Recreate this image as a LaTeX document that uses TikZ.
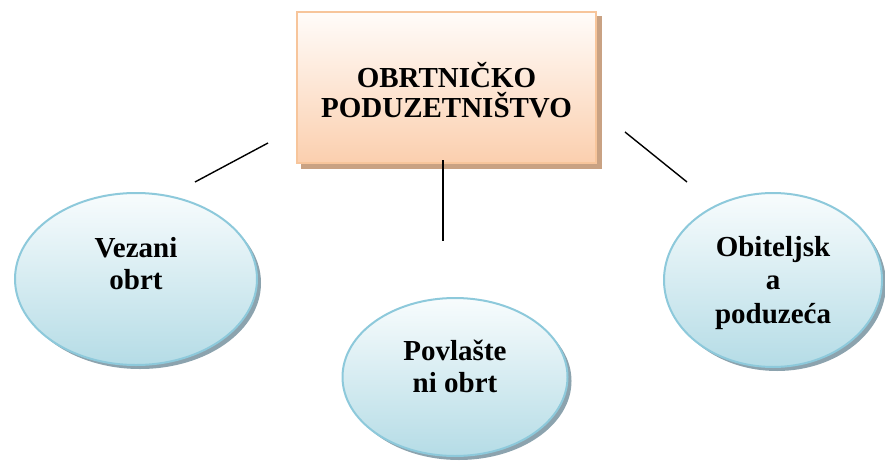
\documentclass[tikz,border=0pt]{standalone}
\usepackage{fontspec}
\setmainfont{Liberation Serif}
\usetikzlibrary{shapes.geometric}
\definecolor{boxedge}{HTML}{F7C59B}
\definecolor{boxtop}{HTML}{FFFCFA}
\definecolor{boxbot}{HTML}{FBCFAE}
\definecolor{boxshadow}{HTML}{C9A283}
\definecolor{elledge}{HTML}{8DC9DB}
\definecolor{elltop}{HTML}{F8FCFD}
\definecolor{ellbot}{HTML}{B5DCE6}
\definecolor{ellshadow}{HTML}{8CA3AE}
\tikzset{
  mainbox/.style={rectangle, draw=boxedge, line width=2pt, top color=boxtop, bottom color=boxbot, minimum width=299pt, minimum height=151pt, inner sep=0pt},
  boxshade/.style={rectangle, fill=boxshadow, minimum width=301pt, minimum height=153pt, inner sep=0pt},
  oval/.style={ellipse, draw=elledge, line width=2pt, top color=elltop, bottom color=ellbot, inner sep=0pt},
  ovalshade/.style={ellipse, fill=ellshadow, inner sep=0pt},
  lbl/.style={font=\fontsize{29}{32}\selectfont\bfseries, align=center, inner sep=0pt},
  conn/.style={line width=1.4pt, black}
}
\begin{document}
\begin{tikzpicture}[x=1pt,y=1pt]
\useasboundingbox (0,0) rectangle (885,-460);
% top box
\node[boxshade] (boxsh) at (451.5,-92.5) {};
\node[mainbox] (top) at (446.5,-87.5) {};
\node[lbl, font=\fontsize{29}{30}\selectfont\bfseries] (toptext) at (446.5,-90) {OBRTNIČKO\\PODUZETNIŠTVO};
% ellipses
\node[ovalshade, minimum width=242pt, minimum height=172pt] (e1sh) at (140,-283) {};
\node[oval, minimum width=242pt, minimum height=172pt] (e1) at (136,-279) {};
\node[lbl] (t1) at (136,-264) {Vezani\\obrt};
\node[ovalshade, minimum width=225pt, minimum height=158pt] (e2sh) at (459,-381) {};
\node[oval, minimum width=225pt, minimum height=158pt] (e2) at (455,-377) {};
\node[lbl] (t2) at (455,-366) {Povlašte\\ni obrt};
\node[ovalshade, minimum width=218pt, minimum height=174pt] (e3sh) at (777,-284) {};
\node[oval, minimum width=218pt, minimum height=174pt] (e3) at (773,-280) {};
\node[lbl, font=\fontsize{29}{33.5}\selectfont\bfseries] (t3) at (773,-283) {Obiteljsk\\a\\poduzeća};
% connectors
\coordinate (c1a) at (268,-143);
\coordinate (c1b) at (195,-182);
\coordinate (c2a) at (443,-160);
\coordinate (c2b) at (443,-241);
\coordinate (c3a) at (625,-132);
\coordinate (c3b) at (687,-182);
\draw[conn] (c1a) -- (c1b);
\draw[conn] (c2a) -- (c2b);
\draw[conn] (c3a) -- (c3b);
\end{tikzpicture}
\end{document}
